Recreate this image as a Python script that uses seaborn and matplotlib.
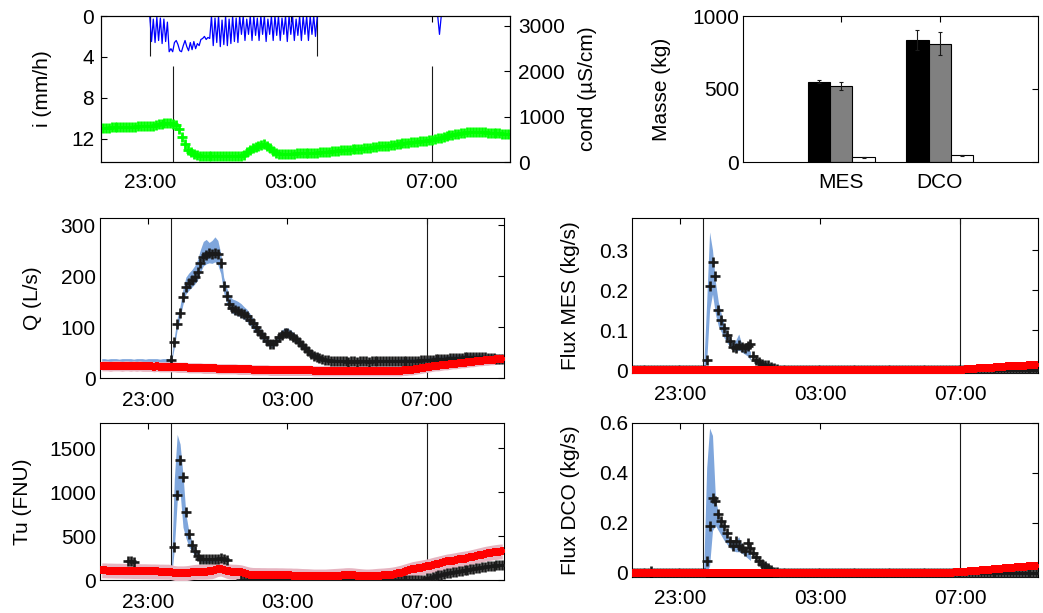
import numpy as np
import pandas as pd
import matplotlib
matplotlib.use('Agg')
import matplotlib.pyplot as plt
import matplotlib.dates as mdates
from matplotlib.ticker import FuncFormatter
import seaborn as sns

sns.set_theme(style='white', rc={
    'axes.edgecolor': 'black', 'axes.linewidth': 0.8,
    'xtick.color': 'black', 'ytick.color': 'black',
    'axes.labelcolor': 'black', 'text.color': 'black',
})
plt.rcParams['font.family'] = ['Liberation Sans', 'DejaVu Sans']
plt.rcParams['font.size'] = 15

nan = np.nan

# =====================================================
# DATA
# =====================================================
# sample times every 5 min, 21:40 -> 09:10 (one row of 12 values = 1 hour)
t = pd.date_range('2012-06-01 21:40', periods=139, freq='5min')
t_ev = t[24:41]          # 23:40 -> 01:00 (uncertainty bands of Tu / fluxes)

# rain intensity i (mm/h), 3 min steps from 23:00
rain = [0, 2.5, 0.3, 2.6, 0.1, 2.4, 0.2, 2.7, 0.3, 2.5, 0.6,
        3.5, 3.2, 3.5, 2.6, 2.4, 2.8, 3.4, 3.5, 2.9, 2.4, 3.0, 3.4,
        2.6, 3.3, 2.5, 3.2, 2.7, 2.9, 2.3, 2.2, 2.0, 2.3, 2.1, 2.2,
        0, 2.9, 0.2, 2.6, 0, 3.0, 0.4, 2.8, 0, 2.9, 0.3, 2.7, 0, 2.5, 0.2, 2.6,
        0, 1.8, 0, 2.4, 0.3, 1.8, 0, 2.4, 0, 1.9, 0.2, 2.4, 0, 1.8, 0,
        2.5, 0.3, 1.8, 0, 2.4, 0, 1.9, 0, 2.4, 0.2, 1.8, 0, 2.5, 0, 1.8,
        0, 2.4, 0.3, 1.9, 0, 2.4, 0, 1.8, 0, 2.4, 0, 1.8, 0, 2.0, 0]
rain_head_t = ['2012-06-01 21:37', '2012-06-01 22:57']
rain_head_v = [0, 0]
rain_tail_t = ['2012-06-02 03:48', '2012-06-02 07:10', '2012-06-02 07:13',
               '2012-06-02 07:16', '2012-06-02 09:13']
rain_tail_v = [0, 0, 1.8, 0, 0]

# conductivity (uS/cm)
cond = [745, 750, 755, 760, 760, 765, 765, 770, 770, 775, 780, 780,
        785, 785, 790, 790, 795, 800, 810, 825, 840, 850, 855, 850,
        840, 815, 720, 560, 390, 270, 210, 175, 155, 140, 132, 127,
        125, 124, 124, 123, 123, 123, 124, 124, 125, 126, 130, 140,
        160, 210, 260, 300, 335, 355, 375, 385, 360, 310, 240, 195,
        185, 182, 182, 183, 185, 186, 188, 190, 192, 194, 196, 198,
        202, 207, 212, 218, 224, 230, 236, 242, 248, 255, 260, 265,
        272, 278, 284, 290, 296, 303, 310, 318, 326, 334, 342, 348,
        355, 362, 370, 380, 390, 400, 410, 420, 428, 436, 442, 448,
        453, 460, 470, 480, 490, 505, 520, 535, 555, 575, 590, 600,
        615, 625, 635, 645, 650, 652, 655, 655, 655, 652, 650, 648,
        645, 640, 635, 630, 622, 615, 610]

# discharge Q (L/s)
q_obs = [nan, nan, nan, nan, nan, nan, nan, nan, nan, nan, nan, nan,
         nan, nan, nan, nan, nan, nan, nan, nan, nan, nan, nan, nan,
         36, 70, 105, 128, 158, 178, 186, 192, 198, 208, 226, 238,
         242, 245, 243, 246, 243, 225, 180, 160, 146, 137, 133, 132,
         128, 125, 122, 114, 107, 100, 93, 86, 80, 73, 67, 66,
         72, 80, 85, 88, 88, 85, 80, 76, 70, 64, 58, 53,
         48, 44, 42, 39, 37, 36, 35, 34, 34, 33, 33, 33,
         33, 32, 33, 33, 32, 33, 33, 33, 32, 33, 33, 33,
         33, 33, 33, 33, 33, 33, 33, 34, 34, 34, 34, 34,
         34, 34, 35, 35, 35, 36, 36, 37, 37, 38, 38, 38,
         39, 39, 40, 40, 40, 41, 41, 41, 42, 42, 42, 41,
         41, 40, 40, 39, 38, 38, 37]
q_hi = [38, 38, 37, 38, 38, 38, 37, 38, 38, 38, 38, 37,
        38, 38, 38, 37, 38, 38, 38, 38, 37, 38, 38, 38,
        40, 80, 118, 142, 175, 198, 206, 212, 220, 232, 252, 268,
        272, 266, 270, 277, 270, 245, 198, 178, 162, 155, 153, 150,
        146, 140, 135, 127, 118, 110, 102, 94, 87, 80, 73, 72,
        79, 88, 94, 98, 98, 95, 89, 84, 77, 70, 64, 58,
        53, 49, 46, 43, 41, 40, 39, 38, 38, 37, 37, 37,
        37, 37, 37, 36, 37, 37, 37, 36, 37, 37, 37, 37,
        37, 37, 37, 37, 37, 37, 37, 38, 38, 38, 38, 38,
        38, 38, 39, 39, 40, 41, 41, 42, 42, 43, 43, 44,
        44, 45, 45, 46, 46, 46, 47, 47, 47, 47, 47, 46,
        46, 45, 45, 44, 43, 43, 42]
q_lo = [30, 30, 30, 30, 30, 30, 30, 30, 30, 30, 30, 30,
        30, 30, 30, 30, 30, 30, 30, 30, 30, 30, 30, 30,
        30, 60, 95, 118, 145, 165, 172, 178, 184, 192, 208, 220,
        224, 226, 225, 228, 222, 205, 168, 148, 135, 127, 124, 122,
        119, 115, 111, 104, 97, 90, 84, 77, 71, 65, 60, 60,
        66, 73, 78, 81, 81, 78, 73, 69, 63, 58, 53, 48,
        44, 40, 38, 35, 33, 32, 31, 31, 30, 30, 30, 30,
        30, 30, 30, 30, 30, 30, 30, 30, 30, 30, 30, 30,
        30, 30, 30, 30, 30, 30, 30, 30, 30, 30, 30, 30,
        30, 30, 31, 31, 32, 32, 33, 33, 34, 34, 34, 35,
        35, 35, 36, 36, 36, 37, 37, 37, 37, 37, 37, 37,
        37, 36, 36, 35, 34, 34, 33]
q_dry = [24, 24, 24, 23, 24, 24, 24, 23, 24, 24, 23, 24,
         23, 24, 23, 23, 23, 23, 22, 23, 22, 22, 22, 22,
         22, 22, 21, 21, 21, 21, 20, 20, 20, 20, 20, 19,
         19, 19, 19, 19, 18, 18, 18, 18, 18, 18, 18, 17,
         17, 17, 17, 17, 16, 16, 16, 16, 16, 16, 15, 15,
         15, 15, 15, 15, 15, 15, 15, 15, 15, 15, 15, 15,
         15, 14, 14, 14, 14, 14, 14, 14, 14, 14, 14, 14,
         14, 14, 14, 14, 14, 14, 14, 14, 14, 14, 14, 14,
         14, 14, 14, 14, 14, 14, 14, 14, 15, 15, 16, 16,
         17, 18, 19, 20, 21, 22, 23, 24, 24, 25, 26, 26,
         27, 28, 28, 29, 30, 30, 31, 32, 32, 33, 34, 34,
         35, 35, 36, 36, 37, 37, 38]
q_dry_band = 10

# turbidity Tu (FNU)
tu_obs = [nan, nan, nan, nan, nan, nan, nan, nan, nan, 220, 215, 210,
          nan, nan, nan, nan, nan, nan, nan, nan, nan, nan, nan, nan,
          nan, 380, 970, 1370, 1180, 780, 520, 400, 330, 270, 245, 240,
          238, 236, 240, 238, 245, 255, 240, 230, nan, nan, nan, nan,
          0, 0, 0, 0, 0, 0, 0, 0, 0, 0, 0, 0,
          0, 0, 0, 0, 0, 0, 0, 0, 0, 0, 0, 0,
          0, 0, 0, 0, 0, 0, 0, 0, 0, 0, 0, 0,
          0, 0, 0, 0, 0, 0, 0, 0, 0, 0, 0, 0,
          0, 0, 0, 0, 0, 0, 0, 0, 0, 0, 0, 0,
          0, 0, 0, 5, 20, 28, 36, 44, 52, 60, 68, 75,
          82, 88, 95, 100, 106, 112, 118, 124, 130, 136, 140, 145,
          150, 155, 160, 165, 168, 170, 172]
tu_hi = [120, 1150, 1660, 1550, 1200, 750, 560, 450, 380,
         320, 280, 260, 250, 250, 255, 265, 250]
tu_lo = [20, 350, 900, 1000, 600, 480, 380, 330, 280,
         240, 215, 205, 200, 200, 205, 210, 200]
tu_dry = [110, 110, 108, 108, 107, 106, 106, 105, 104, 104, 103, 102,
          102, 101, 100, 100, 99, 98, 98, 97, 96, 96, 95, 95,
          88, 80, 76, 76, 76, 78, 82, 88, 92, 95, 95, 95,
          96, 98, 100, 110, 125, 130, 118, 105, 98, 95, 94, 92,
          88, 80, 70, 62, 58, 57, 57, 56, 56, 55, 55, 55,
          55, 54, 54, 53, 52, 52, 50, 50, 48, 46, 45, 44,
          42, 40, 40, 40, 40, 40, 42, 44, 46, 48, 50, 52,
          55, 56, 55, 52, 48, 45, 42, 40, 40, 42, 45, 48,
          50, 52, 55, 58, 62, 68, 76, 84, 94, 104, 114, 124,
          130, 136, 142, 148, 155, 163, 172, 180, 188, 196, 204, 212,
          216, 222, 228, 234, 240, 245, 250, 258, 266, 274, 282, 290,
          298, 304, 310, 315, 320, 324, 326]
tu_dry_band = 85

# flux MES (kg/s)
mes_obs = [0, 0, 0, 0, 0, 0, 0, 0, 0, 0, 0, 0,
           0, 0, 0, 0, 0, 0, 0, 0, 0, 0, 0, 0,
           0, 0.025, 0.21, 0.27, 0.235, 0.15, 0.125, 0.105, 0.088, 0.072, 0.058, 0.055,
           0.062, 0.058, 0.054, 0.06, 0.066, 0.035, 0.025, 0.02, 0.016, 0.013, 0.012, 0.008,
           0.004, 0.002, 0.001, 0, 0, 0, 0, 0, 0, 0, 0, 0,
           0, 0, 0, 0, 0, 0, 0, 0, 0, 0, 0, 0,
           0, 0, 0, 0, 0, 0, 0, 0, 0, 0, 0, 0,
           0, 0, 0, 0, 0, 0, 0, 0, 0, 0, 0, 0,
           0, 0, 0, 0, 0, 0, 0, 0, 0, 0, 0, 0,
           0, 0, 0, 0, 0, 0, 0, 0, 0, 0, 0, 0,
           0, 0, 0, 0, 0, 0, 0, 0, 0, 0, 0, 0,
           0, 0, 0, 0, 0, 0, 0]
mes_hi = [0.01, 0.17, 0.345, 0.30, 0.22, 0.17, 0.14, 0.115, 0.098,
          0.082, 0.07, 0.075, 0.09, 0.065, 0.06, 0.06, 0.045]
mes_lo = [0.0, 0.02, 0.15, 0.19, 0.14, 0.11, 0.095, 0.08, 0.068,
          0.058, 0.05, 0.045, 0.05, 0.045, 0.04, 0.035, 0.025]
mes_dry = [0, 0, 0, 0, 0, 0, 0, 0, 0, 0, 0, 0,
           0, 0, 0, 0, 0, 0, 0, 0, 0, 0, 0, 0,
           0, 0, 0, 0, 0, 0, 0, 0, 0, 0, 0, 0,
           0, 0, 0, 0, 0, 0, 0, 0, 0, 0, 0, 0,
           0, 0, 0, 0, 0, 0, 0, 0, 0, 0, 0, 0,
           0, 0, 0, 0, 0, 0, 0, 0, 0, 0, 0, 0,
           0, 0, 0, 0, 0, 0, 0, 0, 0, 0, 0, 0,
           0, 0, 0, 0, 0, 0, 0, 0, 0, 0, 0, 0,
           0, 0, 0, 0, 0, 0, 0, 0, 0, 0, 0, 0,
           0, 0, 0, 0, 0.001, 0.001, 0.002, 0.002, 0.003, 0.003, 0.004, 0.004,
           0.005, 0.005, 0.006, 0.006, 0.007, 0.007, 0.008, 0.008, 0.009, 0.009, 0.010, 0.010,
           0.011, 0.011, 0.011, 0.012, 0.012, 0.012, 0.013]
mes_dry_band = 0.006

# flux DCO (kg/s)
dco_obs = [0, 0, 0, 0, 0, 0, 0.008, 0, 0, 0, 0, 0,
           0, 0, 0, 0, 0, 0, 0, 0, 0, 0, 0, 0,
           0, 0.05, 0.19, 0.30, 0.29, 0.235, 0.21, 0.19, 0.16, 0.13, 0.11, 0.13,
           0.11, 0.10, 0.09, 0.12, 0.10, 0.08, 0.065, 0.05, 0.037, 0.028, 0.02, 0.012,
           0.006, 0.003, 0.002, 0.001, 0, 0, 0, 0, 0, 0, 0, 0,
           0, 0, 0, 0, 0, 0, 0, 0, 0, 0, 0, 0,
           0, 0, 0, 0, 0, 0, 0, 0, 0, 0, 0, 0,
           0, 0, 0, 0, 0, 0, 0, 0, 0, 0, 0, 0,
           0, 0, 0, 0, 0, 0, 0, 0, 0, 0, 0, 0,
           0, 0, 0, 0, 0, 0, 0, 0, 0, 0, 0, 0,
           0, 0, 0, 0, 0, 0, 0, 0, 0, 0, 0, 0,
           0, 0, 0, 0, 0, 0, 0]
dco_hi = [0.02, 0.42, 0.58, 0.55, 0.30, 0.24, 0.20, 0.17, 0.15,
          0.135, 0.125, 0.13, 0.145, 0.115, 0.105, 0.095, 0.08]
dco_lo = [0.0, 0.0, 0.03, 0.17, 0.19, 0.17, 0.15, 0.13, 0.115,
          0.10, 0.09, 0.085, 0.085, 0.08, 0.07, 0.06, 0.05]
dco_dry = [0, 0, 0, 0, 0, 0, 0, 0, 0, 0, 0, 0,
           0, 0, 0, 0, 0, 0, 0, 0, 0, 0, 0, 0,
           0, 0, 0, 0, 0, 0, 0, 0, 0, 0, 0, 0,
           0, 0, 0, 0, 0, 0, 0, 0, 0, 0, 0, 0,
           0, 0, 0, 0, 0, 0, 0, 0, 0, 0, 0, 0,
           0, 0, 0, 0, 0, 0, 0, 0, 0, 0, 0, 0,
           0, 0, 0, 0, 0, 0, 0, 0, 0, 0, 0, 0,
           0, 0, 0, 0, 0, 0, 0, 0, 0, 0, 0, 0,
           0, 0, 0, 0, 0, 0, 0, 0, 0, 0, 0, 0,
           0.002, 0.002, 0.003, 0.003, 0.004, 0.005, 0.006, 0.007, 0.008, 0.009, 0.010, 0.011,
           0.012, 0.013, 0.014, 0.015, 0.016, 0.017, 0.018, 0.019, 0.020, 0.021, 0.022, 0.023,
           0.024, 0.025, 0.026, 0.027, 0.028, 0.029, 0.030]
dco_dry_band = 0.008

# event masses (kg)
bar_param = ['MES', 'DCO']
bar_kind = ['obs', 'sim', 'sec']
mes_masse = [550, 520, 32]
dco_masse = [834, 810, 46]
mes_err = [10, 26, 4]
dco_err = [68, 78, 4]

# event limits
rain_lim = pd.to_datetime(['2012-06-01 23:01', '2012-06-02 03:44'])
event_lim = pd.to_datetime(['2012-06-01 23:39', '2012-06-02 07:00'])
xlim = pd.to_datetime(['2012-06-01 21:37', '2012-06-02 09:13'])
xticks = pd.to_datetime(['2012-06-01 23:00', '2012-06-02 03:00', '2012-06-02 07:00'])

BLUE = '#7fa6dc'
PINK = '#e6b5c1'
GREEN = '#00ff00'

# =====================================================
# FIGURE
# =====================================================
fig = plt.figure(figsize=(10.43, 6.13), dpi=100)
W, H = 1043, 613


def box(x0, y0, x1, y1):
    return [x0 / W, 1 - y1 / H, (x1 - x0) / W, (y1 - y0) / H]


fmt_g = FuncFormatter(lambda v, p: f'{v:g}')


def time_axis(ax):
    ax.set_xlim(xlim)
    ax.set_xticks(xticks)
    ax.xaxis.set_major_formatter(mdates.DateFormatter('%H:%M'))
    ax.set_xlabel('')


def style(ax, xpad=9):
    ax.tick_params(axis='both', direction='in', length=4, width=0.8,
                   top=True, right=True, labelsize=15)
    ax.tick_params(axis='x', pad=xpad)
    ax.tick_params(axis='y', pad=3)
    for s in ax.spines.values():
        s.set_color('black')
        s.set_linewidth(0.8)


# ---------------- top-left : rain + conductivity
ax_r = fig.add_axes(box(101, 16, 510, 162))
rain_t = pd.DatetimeIndex(list(pd.to_datetime(rain_head_t))
                          + list(pd.date_range('2012-06-01 23:00', periods=len(rain), freq='3min'))
                          + list(pd.to_datetime(rain_tail_t)))
rain_v = rain_head_v + rain + rain_tail_v
ax_r.vlines(rain_lim, 0, 3.9, color='k', lw=0.8, zorder=1)
sns.lineplot(x=rain_t, y=rain_v, color='#0000ff', lw=0.9, estimator=None, ax=ax_r, zorder=3)
ax_r.set_ylim(14.3, 0)
ax_r.set_yticks([0, 4, 8, 12])
time_axis(ax_r)
style(ax_r, xpad=8)
ax_r.tick_params(axis='y', right=False, pad=5)
ax_r.set_ylabel('i (mm/h)', fontsize=15)
ax_r.yaxis.set_label_coords(-0.12, 0.5)

ax_c = ax_r.twinx()
ax_c.vlines(event_lim, 0, 2100, color='k', lw=0.8, zorder=1)
sns.scatterplot(x=t, y=cond, marker='+', s=42, color=GREEN, linewidth=2.0, ax=ax_c, zorder=2)
ax_c.set_ylim(0, 3210)
ax_c.set_yticks([0, 1000, 2000, 3000])
time_axis(ax_c)
ax_c.tick_params(axis='y', direction='in', length=4, width=0.8, right=True, left=False,
                 labelsize=15, pad=6)
ax_c.set_ylabel('cond (µS/cm)', fontsize=15)
ax_c.yaxis.set_label_coords(1.166, 0.5)

# ---------------- top-right : masses
ax_b = fig.add_axes(box(743, 16, 1038, 162))
df_bar = pd.DataFrame({
    'param': [p for p in bar_param for _ in bar_kind],
    'kind': bar_kind * len(bar_param),
    'masse': mes_masse + dco_masse,
})
sns.barplot(data=df_bar, x='param', y='masse', hue='kind', order=bar_param,
            hue_order=bar_kind, palette=['#000000', '#808080', '#ffffff'],
            edgecolor='black', linewidth=0.8, width=0.68, gap=0,
            errorbar=None, legend=False, ax=ax_b)
errs = [[mes_err[k], dco_err[k]] for k in range(len(bar_kind))]
for cont, e in zip(ax_b.containers, errs):
    xs = [b.get_x() + b.get_width() / 2 for b in cont]
    ys = [b.get_height() for b in cont]
    ax_b.errorbar(xs, ys, yerr=e, fmt='none', ecolor='k', elinewidth=0.8,
                  capsize=1.2, capthick=0.8, zorder=5)
ax_b.set_xlim(-1, 2)
ax_b.set_ylim(0, 1000)
ax_b.set_yticks([0, 500, 1000])
ax_b.set_xlabel('')
ax_b.set_ylabel('Masse (kg)', fontsize=15)
ax_b.yaxis.set_label_coords(-0.244, 0.5)
style(ax_b, xpad=8)


# ---------------- time series panels
def panel(rect, obs, t_band, lo, hi, dry, dry_band, ylim, yticks, ylabel, lab_x):
    ax = fig.add_axes(rect)
    ax.vlines(event_lim, ylim[0], ylim[1], color='k', lw=0.8, zorder=1)
    ax.fill_between(t_band, lo, hi, color=BLUE, lw=0, zorder=2)
    dry = np.asarray(dry, dtype=float)
    ax.fill_between(t, dry - dry_band, dry + dry_band, color=PINK, lw=0, zorder=3)
    sns.scatterplot(x=t, y=obs, marker='+', s=55, color='k', linewidth=1.9, ax=ax, zorder=4)
    sns.scatterplot(x=t, y=dry, marker='+', s=36, color='#ff0000', linewidth=2.8, ax=ax, zorder=5)
    ax.set_ylim(ylim)
    ax.set_yticks(yticks)
    ax.yaxis.set_major_formatter(fmt_g)
    time_axis(ax)
    style(ax)
    ax.set_ylabel(ylabel, fontsize=15)
    ax.yaxis.set_label_coords(lab_x, 0.5)
    return ax


panel(box(100, 218, 504, 378), q_obs, t, q_lo, q_hi, q_dry, q_dry_band,
      (0, 314), [0, 100, 200, 300], 'Q (L/s)', -0.1436)
panel(box(632, 218, 1038, 373), mes_obs, t_ev, mes_lo, mes_hi, mes_dry, mes_dry_band,
      (-0.0075, 0.38), [0, 0.1, 0.2, 0.3], 'Flux MES (kg/s)', -0.128)
panel(box(100, 423, 504, 580), tu_obs, t_ev, tu_lo, tu_hi, tu_dry, tu_dry_band,
      (0, 1790), [0, 500, 1000, 1500], 'Tu (FNU)', -0.168)
panel(box(632, 423, 1038, 577), dco_obs, t_ev, dco_lo, dco_hi, dco_dry, dco_dry_band,
      (-0.016, 0.6), [0, 0.2, 0.4, 0.6], 'Flux DCO (kg/s)', -0.128)

fig.savefig('out.png', dpi=100)
